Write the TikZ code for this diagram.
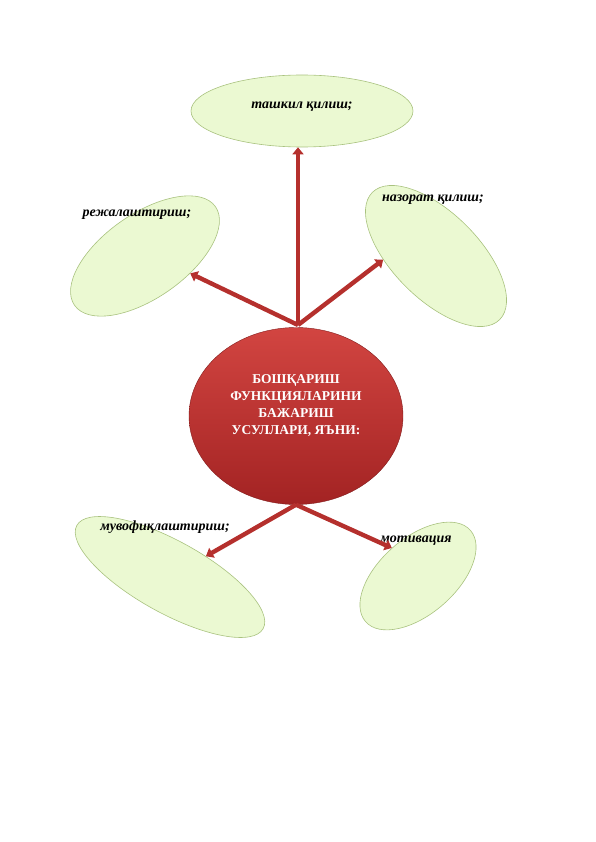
\documentclass[tikz,border=0pt]{standalone}
\usepackage{fontspec}
\setmainfont{Liberation Serif}
\usetikzlibrary{shapes.geometric,arrows.meta}

\definecolor{leaf}{HTML}{EBF9D2}
\definecolor{leafline}{HTML}{A9C27F}
\definecolor{redtop}{HTML}{D24541}
\definecolor{redbot}{HTML}{A32323}
\definecolor{arrowred}{HTML}{B5302D}

\begin{document}
\begin{tikzpicture}[x=1pt, y=-1pt,
  leaf/.style={ellipse, draw=leafline, line width=0.6pt, fill=leaf, inner sep=0pt},
  lbl/.style={font=\fontsize{14}{16}\selectfont\bfseries\itshape, text=black},
  arr/.style={draw=arrowred, line width=4.4pt, -{Triangle[width=11pt,length=7pt]}}]

\useasboundingbox (0,0) rectangle (596,842);

\node[leaf, minimum width=222, minimum height=72] (org) at (302,111) {};
\node[leaf, minimum width=172, minimum height=84, rotate=35] (plan) at (145,256) {};
\node[leaf, minimum width=180, minimum height=86, rotate=-45] (ctrl) at (436,256) {};
\node[leaf, minimum width=213, minimum height=72, rotate=-29] (coord) at (170,577) {};
\node[leaf, minimum width=139, minimum height=76, rotate=41] (motiv) at (418,576) {};

\node[ellipse, minimum width=214, minimum height=177, inner sep=0pt,
  top color=redtop, bottom color=redbot, draw=redbot!80!black, line width=0.4pt]
  (ctr) at (296,416) {};
\coordinate (hub) at (298,325);

\node[lbl] (t1) at (302,107) {ташкил қилиш;};
\node[lbl] (t2) at (137,215) {режалаштириш;};
\node[lbl] (t3) at (433,200) {назорат қилиш;};
\node[lbl] (t4) at (165,527) {мувофиқлаштириш;};
\node[lbl] (t5) at (416,541) {мотивация};

\node[align=center, text=white, font=\fontsize{13.5}{17}\selectfont\bfseries]
  (main) at (296,406) {БОШҚАРИШ\\ФУНКЦИЯЛАРИНИ\\БАЖАРИШ\\УСУЛЛАРИ, ЯЪНИ:};

\draw[arr] (hub) -- (hub |- org.south);
\draw[arr] (hub) -- (plan.304);
\draw[arr] (hub) -- (ctrl.229);
\draw[arr] (ctr.south) -- (coord.59);
\draw[arr] (ctr.south) -- (motiv.92);

\end{tikzpicture}
\end{document}
